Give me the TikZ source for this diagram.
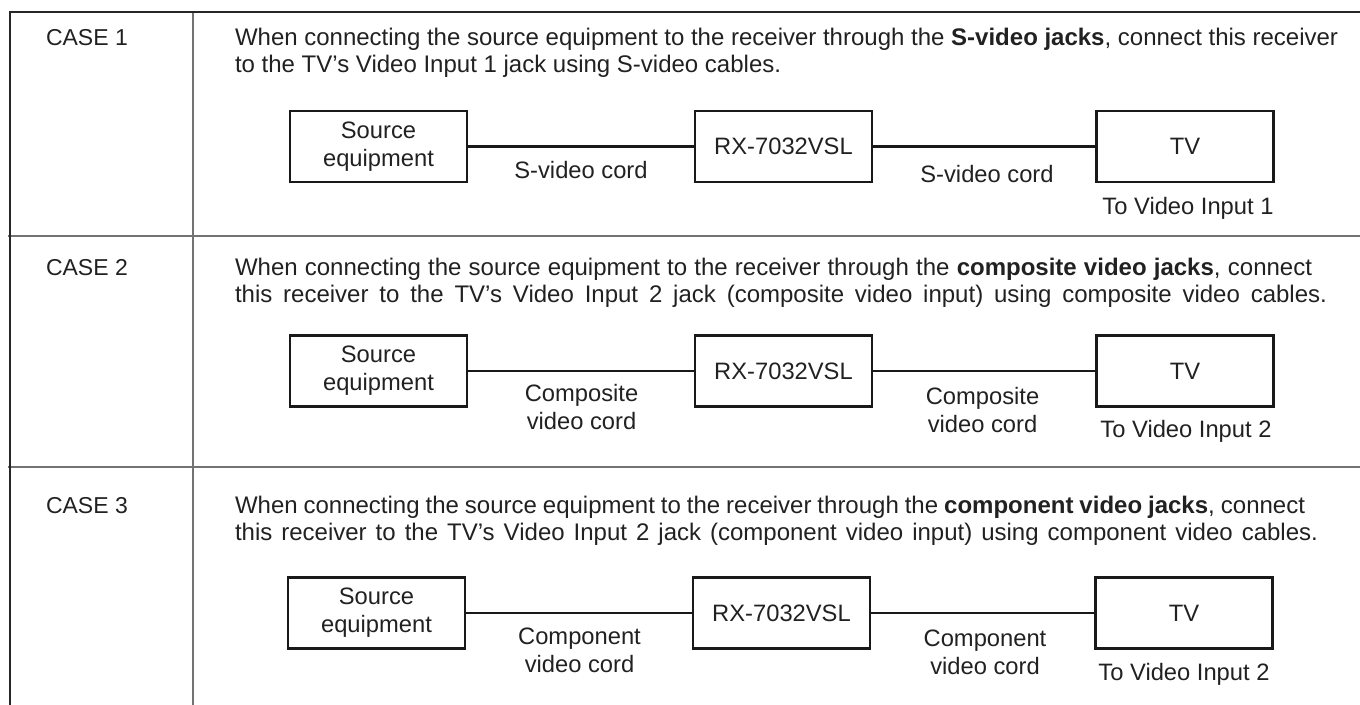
\documentclass[tikz,border=0pt]{standalone}
\usepackage{fontspec}
\setmainfont{Liberation Sans}
\definecolor{ink}{gray}{0.13}
\newcommand{\jline}[2]{\makebox[#1][s]{#2}}
\begin{document}
\begin{tikzpicture}[x=0.75pt,y=-0.75pt,
  every node/.style={inner sep=0pt, outer sep=0pt, text=ink, font=\fontsize{17.8}{21}\selectfont},
  frame/.style={line width=1.5pt, draw=black!85},
  rule/.style={line width=0.9pt, draw=black!55},
  unit/.style={draw=black!90, line width=2pt, minimum width=132.75pt, minimum height=53.25pt, align=center},
  cord/.style={line width=1.6pt, draw=black!90},
  lbl/.style={anchor=base, align=center},
  body/.style={anchor=base west, font=\fontsize{18}{21}\selectfont},
  casename/.style={anchor=base west, font=\fontsize{17.25}{21}\selectfont}]
\useasboundingbox (0,0) rectangle (1360,705);
% table
\coordinate (tl) at (9,12);  \coordinate (tr) at (1360,12);
\coordinate (lt) at (10,12); \coordinate (lb) at (10,705);
\coordinate (ct) at (193,12); \coordinate (cb) at (193,705);
\coordinate (r1l) at (8,236); \coordinate (r1r) at (1360,236);
\coordinate (r2l) at (8,467); \coordinate (r2r) at (1360,467);
\draw[rule] (ct) -- (cb);
\draw[rule] (r1l) -- (r1r);
\draw[rule] (r2l) -- (r2r);
\draw[frame] (tl) -- (tr);
\draw[frame] (lt) -- (lb);
% CASE 1
\node[casename] (c1) at (46,46) {CASE 1};
\node[body] (t1a) at (235,46) {\jline{827.25pt}{When connecting the source equipment to the receiver through the \textbf{S-video jacks}, connect this receiver}};
\node[body] (t1b) at (235,73) {to the TV’s Video Input 1 jack using S-video cables.};
\node[unit] (s1) at (378.5,146.5) {Source\\equipment};
\node[unit] (x1) at (783.5,146.5) {RX-7032VSL};
\node[unit] (v1) at (1185,146.5) {TV};
\draw[cord] (s1) -- (x1);
\draw[cord] (x1) -- (v1);
\node[lbl] (l1a) at (581,179) {S-video cord};
\node[lbl] (l1b) at (987,183) {S-video cord};
\node[lbl] (i1) at (1188,215) {To Video Input 1};
% CASE 2
\node[casename] (c2) at (46,276) {CASE 2};
\node[body] (t2a) at (235,276) {\jline{807.75pt}{When connecting the source equipment to the receiver through the \textbf{composite video jacks}, connect}};
\node[body] (t2b) at (235,303) {\jline{819pt}{this receiver to the TV’s Video Input 2 jack (composite video input) using composite video cables.}};
\node[unit] (s2) at (378.5,371) {Source\\equipment};
\node[unit] (x2) at (783.5,371) {RX-7032VSL};
\node[unit] (v2) at (1185,371) {TV};
\draw[cord] (s2) -- (x2);
\draw[cord] (x2) -- (v2);
\node[lbl] (l2a) at (581.5,430) {Composite\\video cord};
\node[lbl] (l2b) at (982.5,433) {Composite\\video cord};
\node[lbl] (i2) at (1186,438) {To Video Input 2};
% CASE 3
\node[casename] (c3) at (46,513) {CASE 3};
\node[body] (t3a) at (235,513) {\jline{802.5pt}{When connecting the source equipment to the receiver through the \textbf{component video jacks}, connect}};
\node[body] (t3b) at (235,541) {\jline{812.25pt}{this receiver to the TV’s Video Input 2 jack (component video input) using component video cables.}};
\node[unit] (s3) at (376.5,613) {Source\\equipment};
\node[unit] (x3) at (781.5,613) {RX-7032VSL};
\node[unit] (v3) at (1184,613) {TV};
\draw[cord] (s3) -- (x3);
\draw[cord] (x3) -- (v3);
\node[lbl] (l3a) at (579.5,672) {Component\\video cord};
\node[lbl] (l3b) at (985,674) {Component\\video cord};
\node[lbl] (i3) at (1184,680) {To Video Input 2};
\end{tikzpicture}
\end{document}
